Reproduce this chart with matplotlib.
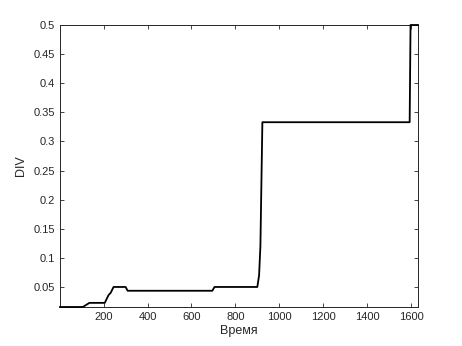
import matplotlib
matplotlib.use("Agg")
import matplotlib.pyplot as plt

# data (time, DIV)
time = [1, 105, 135, 205, 222, 232, 245, 300, 309, 695, 705, 900, 908, 914, 923, 1594, 1598, 1632]
div = [0.0156, 0.0156, 0.0227, 0.0227, 0.036, 0.04, 0.05, 0.05, 0.0435, 0.0435, 0.05, 0.05, 0.07, 0.12, 0.333, 0.333, 0.5, 0.5]

xticks = [200, 400, 600, 800, 1000, 1200, 1400, 1600]
yticks = [0.05, 0.1, 0.15, 0.2, 0.25, 0.3, 0.35, 0.4, 0.45, 0.5]
ytick_labels = ["0.05", "0.1", "0.15", "0.2", "0.25", "0.3", "0.35", "0.4", "0.45", "0.5"]

plt.rcParams['font.family'] = ['Liberation Sans', 'DejaVu Sans']
txt = '#262626'

fig = plt.figure(figsize=(4.62, 3.46), dpi=100)
ax = fig.add_axes([60/462, 1 - 307/346, (418-60)/462, (307-25)/346])
ax.plot(time, div, color='black', linewidth=1.3, clip_on=False, zorder=3)
ax.set_xlim(1, 1632)
ax.set_ylim(0.0156, 0.5)
ax.set_xticks(xticks)
ax.set_yticks(yticks)
ax.set_yticklabels(ytick_labels)
ax.tick_params(direction='in', length=3, width=0.6, colors=txt, labelsize=8,
               top=True, right=True, labelcolor=txt)
for s in ax.spines.values():
    s.set_linewidth(0.7)
    s.set_color(txt)
ax.set_xlabel('Время', fontsize=9, color=txt, labelpad=2)
ax.set_ylabel('DIV', fontsize=9, color=txt, labelpad=5)
fig.savefig('out.png', dpi=100)
